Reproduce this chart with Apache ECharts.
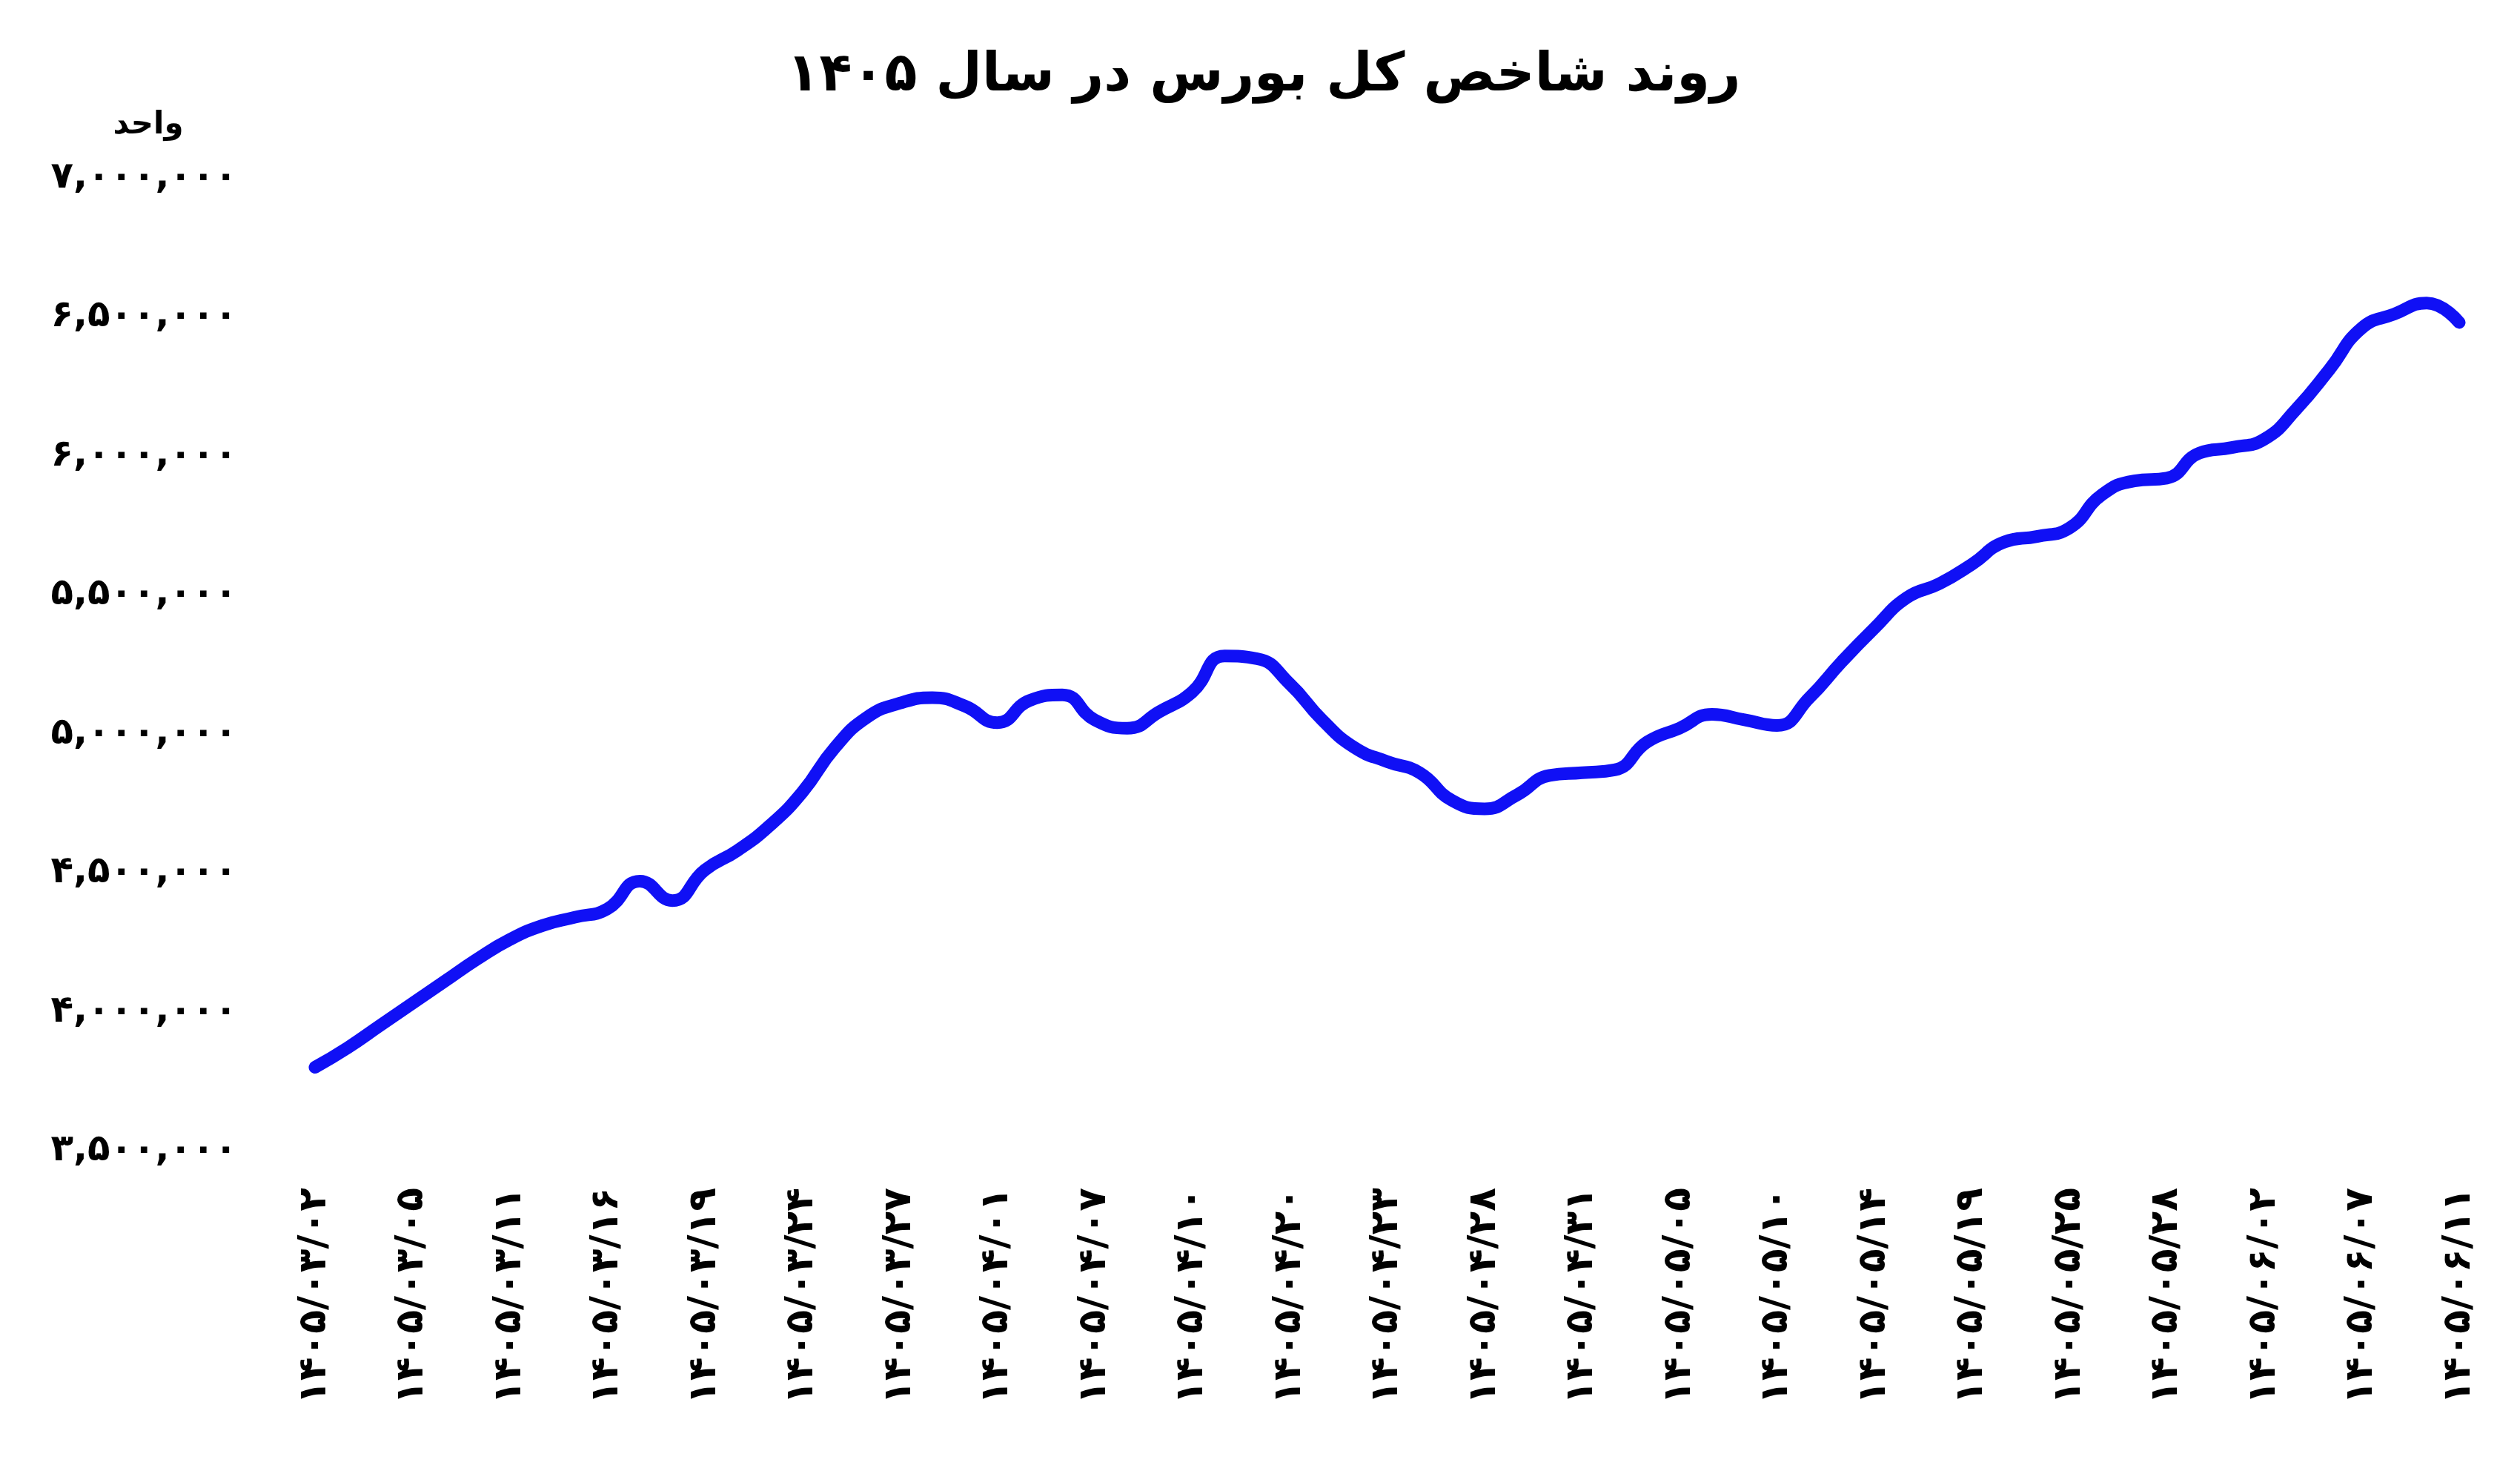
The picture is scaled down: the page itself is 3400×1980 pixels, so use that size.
<!DOCTYPE html>
<html><head><meta charset="utf-8">
<script src="https://cdn.jsdelivr.net/npm/echarts@6/dist/echarts.min.js"></script>
<style>html,body{margin:0;background:#fff}#c{width:3400px;height:1980px}</style>
</head><body><div id="c"></div>
<script>
const dates = ["1405/03/02","1405/03/03","1405/03/04","1405/03/05","1405/03/09","1405/03/10","1405/03/11","1405/03/12","1405/03/15","1405/03/16","1405/03/17","1405/03/18","1405/03/19","1405/03/22","1405/03/23","1405/03/24","1405/03/25","1405/03/26","1405/03/27","1405/03/30","1405/03/31","1405/04/01","1405/04/02","1405/04/06","1405/04/07","1405/04/08","1405/04/09","1405/04/10","1405/04/13","1405/04/16","1405/04/20","1405/04/21","1405/04/22","1405/04/23","1405/04/24","1405/04/27","1405/04/28","1405/04/29","1405/04/30","1405/04/31","1405/05/01","1405/05/04","1405/05/05","1405/05/06","1405/05/07","1405/05/10","1405/05/11","1405/05/12","1405/05/14","1405/05/15","1405/05/18","1405/05/19","1405/05/20","1405/05/21","1405/05/25","1405/05/26","1405/05/27","1405/05/28","1405/05/29","1405/06/01","1405/06/02","1405/06/03","1405/06/04","1405/06/07","1405/06/08","1405/06/09","1405/06/11"];
const indexValues = [3800000,3870000,3950000,4030000,4110000,4190000,4260000,4310000,4340000,4370000,4470000,4400000,4510000,4580000,4670000,4790000,4950000,5060000,5110000,5130000,5100000,5040000,5120000,5140000,5050000,5020000,5080000,5150000,5280000,5270000,5180000,5050000,4950000,4900000,4860000,4760000,4730000,4780000,4850000,4860000,4870000,4970000,5020000,5070000,5050000,5030000,5130000,5260000,5380000,5490000,5540000,5610000,5690000,5710000,5740000,5860000,5910000,5920000,6010000,6030000,6060000,6170000,6310000,6460000,6510000,6550000,6480000];
const title = "روند شاخص کل بورس در سال ۱۴۰۵";
const unit = "واحد";
const fa = s => String(s).replace(/\d/g, d => "۰۱۲۳۴۵۶۷۸۹"[d]);
const F = "DejaVu Sans";
const chart = echarts.init(document.getElementById('c'));
chart.setOption({
  backgroundColor:'#fff', animation:false,
  title:{text:title,left:1700,top:62,textAlign:'center',textStyle:{fontFamily:F,fontWeight:'bold',fontSize:72,color:'#000'}},
  grid:{left:425,right:82,top:240,bottom:428,containLabel:false,outerBoundsMode:'none'},
  xAxis:{type:'category',data:dates,boundaryGap:false,
    axisLine:{show:false},axisTick:{show:false},splitLine:{show:false},
    axisLabel:{interval:2,rotate:90,margin:50,fontFamily:F,fontWeight:'bold',fontSize:52,color:'#000',formatter:v=>fa(v)}},
  yAxis:{type:'value',min:3500000,max:7000000,interval:500000,name:unit,nameLocation:'end',nameGap:50,
    nameTextStyle:{fontFamily:F,fontWeight:'bold',fontSize:42,color:'#000',align:'center',padding:[0,0,0,-450]},
    axisLine:{show:false},axisTick:{show:false},splitLine:{show:false},
    axisLabel:{margin:105,fontFamily:F,fontWeight:'bold',fontSize:50,color:'#000',formatter:v=>fa(v.toLocaleString('en-US'))}},
  series:[{type:'line',data:indexValues,smooth:true,symbol:'none',lineStyle:{width:17,color:'#1010f5',cap:'round',join:'round'}}]
});
</script></body></html>
